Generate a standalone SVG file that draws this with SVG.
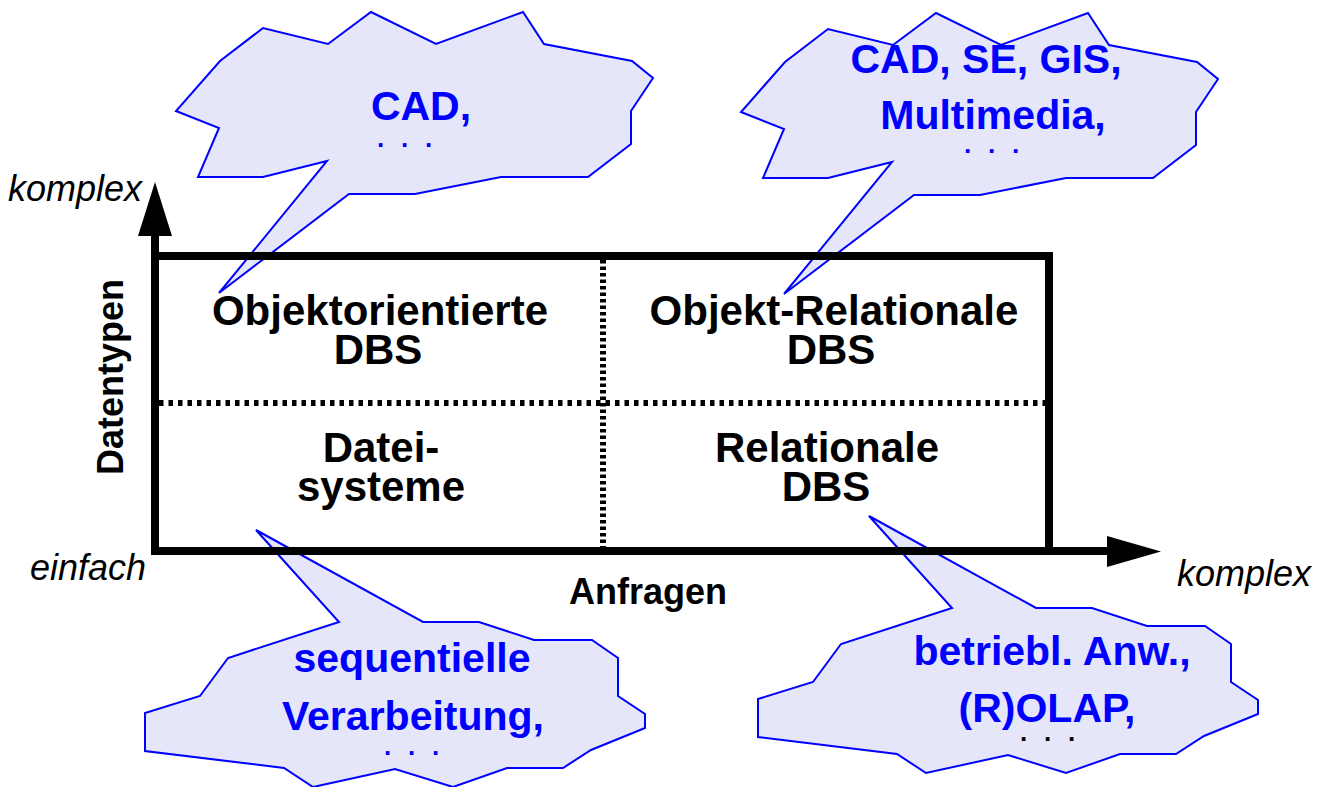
<svg xmlns="http://www.w3.org/2000/svg" width="1332" height="787" viewBox="0 0 1332 787">
<style>
.cloud{fill:#e6e6fa;stroke:#0000ff;stroke-width:2;stroke-linejoin:miter}
.blue{font-family:"Liberation Sans",Arial,sans-serif;font-weight:bold;font-size:41px;fill:#0000ff;text-anchor:middle}
.dots{font-family:"Liberation Sans",Arial,sans-serif;font-weight:bold;font-size:26px;letter-spacing:4.8px;text-anchor:middle}
.lbl{font-family:"Liberation Sans",Arial,sans-serif;font-weight:bold;font-size:42px;fill:#000;text-anchor:middle}
.ax{font-family:"Liberation Sans",Arial,sans-serif;font-weight:bold;font-size:36px;fill:#000;text-anchor:middle}
.it{font-family:"Liberation Sans",Arial,sans-serif;font-style:italic;font-size:36px;fill:#000}
.line{stroke:#000;stroke-width:8;fill:none}
.dotted{stroke:#000;stroke-width:6;fill:none}
</style>
<defs>
<path id="topCloud" d="M371,12 L436,44 L523,12 L544,44 L632,61 L653,78 L631,111 L631,144 L588,177 L501,177 L415,194 L349,194 L219,293 L327,161 L263,177 L198,177 L219,128 L176,111 L220,61 L263,28 L328,44 Z"/>
<path id="botCloud" d="M256,530 L423,622 L479,622 L534,640 L592,640 L618,658 L618,696 L645,714 L645,728 L591,750 L563,768 L507,768 L453,787 L395,769 L313,787 L284,768 L145,751 L145,713 L200,696 L228,658 L339,622 Z"/>
</defs>
<rect width="1332" height="787" fill="#fff"/>

<g id="cloud-oodbs">
<use href="#topCloud" class="cloud"/>
<text class="blue" x="421" y="120">CAD,</text>
<text class="dots" x="407" y="147" fill="#0000ff">. . .</text>
</g>
<g id="cloud-ordbs">
<use href="#topCloud" class="cloud" x="565" y="1"/>
<text class="blue" x="986" y="73">CAD, SE, GIS,</text>
<text class="blue" x="993" y="129">Multimedia,</text>
<text class="dots" x="994" y="153" fill="#0000ff">. . .</text>
</g>
<g id="cloud-files">
<use href="#botCloud" class="cloud"/>
<text class="blue" x="412" y="672">sequentielle</text>
<text class="blue" x="413" y="730">Verarbeitung,</text>
<text class="dots" x="414" y="755" fill="#0000ff">. . .</text>
</g>
<g id="cloud-rdbs">
<use href="#botCloud" class="cloud" x="613" y="-14"/>
<text class="blue" x="1052" y="665">betriebl. Anw.,</text>
<text class="blue" x="1047" y="722">(R)OLAP,</text>
<text class="dots" x="1050" y="741" fill="#000">. . .</text>
</g>

<g id="connectors">
<line class="line" x1="155" y1="555" x2="155" y2="232"/>
<polygon points="155,182 138,236 172,236" fill="#000"/>
<line class="line" x1="151" y1="551" x2="1110" y2="551"/>
<polygon points="1107,536 1107,567 1161,551.5" fill="#000"/>
<line class="line" x1="151" y1="256" x2="1053" y2="256"/>
<line class="line" x1="1049" y1="252" x2="1049" y2="555"/>
<line class="dotted" x1="159" y1="403" x2="1045" y2="403" stroke-dasharray="4.5 5"/>
<line class="dotted" x1="603" y1="260" x2="603" y2="547" stroke-width="7" stroke-dasharray="3.5 3"/>
</g>

<g id="node-oodbs">
<text class="lbl" x="380" y="325">Objektorientierte</text>
<text class="lbl" x="378" y="364">DBS</text>
</g>
<g id="node-ordbs">
<text class="lbl" x="834" y="325">Objekt-Relationale</text>
<text class="lbl" x="831" y="364">DBS</text>
</g>
<g id="node-files">
<text class="lbl" x="381" y="462">Datei-</text>
<text class="lbl" x="381" y="501">systeme</text>
</g>
<g id="node-rdbs">
<text class="lbl" x="827" y="462">Relationale</text>
<text class="lbl" x="826" y="501">DBS</text>
</g>

<g id="axis-labels">
<text class="it" x="8" y="201">komplex</text>
<text class="it" x="30" y="580">einfach</text>
<text class="it" x="1177" y="586">komplex</text>
<text class="ax" x="648" y="604">Anfragen</text>
<text class="ax" transform="translate(123,377) rotate(-90)">Datentypen</text>
</g>
</svg>
